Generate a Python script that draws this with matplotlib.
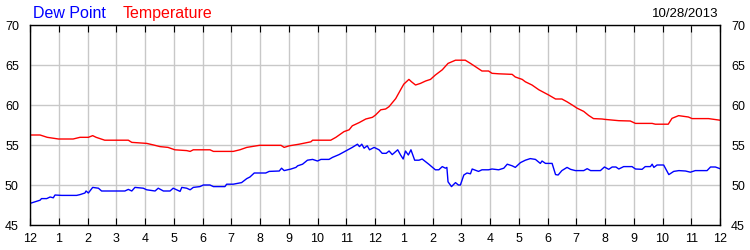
import matplotlib.pyplot as plt

plt.rcParams['font.family'] = ['Liberation Sans', 'DejaVu Sans']

# hours since midnight
temp_h = [0, 0.35, 0.6, 0.99, 1.5, 1.74, 2.03, 2.18, 2.3, 2.6, 3.42, 3.54, 4.06, 4.3, 4.52,
          4.8, 5.04, 5.45, 5.57, 5.68, 6.26, 6.38, 7.07, 7.3, 7.54, 7.98, 8.73, 8.84, 9.02,
          9.36, 9.77, 9.83, 10.46, 10.64, 10.92, 11.1, 11.21, 11.45, 11.68, 11.91, 12.02,
          12.2, 12.37, 12.49, 12.72, 12.89, 13.0, 13.18, 13.27, 13.41, 13.58, 13.76, 13.93,
          14.1, 14.34, 14.54, 14.8, 15.14, 15.32, 15.49, 15.72, 15.95, 16.07, 16.3, 16.77,
          16.88, 17.12, 17.23, 17.46, 17.7, 18.04, 18.28, 18.5, 18.68, 18.86, 19.03, 19.26,
          19.43, 19.6, 19.9, 20.0, 20.48, 20.88, 21.06, 21.64, 21.75, 22.2, 22.33, 22.56,
          22.9, 23.03, 23.6, 24.0]
temp_v = [56.25, 56.25, 55.96, 55.75, 55.75, 55.96, 55.96, 56.17, 55.96, 55.6, 55.6, 55.33,
          55.2, 55.0, 54.8, 54.7, 54.4, 54.3, 54.2, 54.4, 54.4, 54.2, 54.2, 54.4, 54.7, 54.96,
          54.96, 54.7, 54.9, 55.1, 55.4, 55.6, 55.6, 55.96, 56.67, 56.9, 57.4, 57.8, 58.25,
          58.46, 58.75, 59.4, 59.5, 59.8, 60.8, 61.9, 62.6, 63.2, 62.9, 62.5, 62.7, 63.0, 63.2,
          63.75, 64.4, 65.2, 65.6, 65.6, 65.2, 64.8, 64.25, 64.25, 63.96, 63.9, 63.83, 63.5,
          63.2, 62.9, 62.5, 61.9, 61.25, 60.75, 60.75, 60.4, 60.0, 59.6, 59.2, 58.7, 58.3,
          58.25, 58.2, 58.04, 58.0, 57.7, 57.7, 57.6, 57.6, 58.33, 58.67, 58.5, 58.3, 58.3,
          58.1]

dew_h = [0, 0.17, 0.35, 0.4, 0.58, 0.7, 0.81, 0.87, 1.1, 1.62, 1.74, 1.91, 1.95, 2.03, 2.18,
         2.38, 2.49, 3.3, 3.42, 3.54, 3.65, 3.94, 4.06, 4.35, 4.46, 4.64, 4.87, 4.98, 5.22,
         5.28, 5.45, 5.57, 5.68, 5.91, 6.03, 6.26, 6.38, 6.78, 6.84, 7.07, 7.36, 7.54, 7.65,
         7.8, 8.2, 8.32, 8.67, 8.75, 8.84, 9.08, 9.25, 9.31, 9.48, 9.65, 9.83, 10.0, 10.12,
         10.4, 10.52, 10.75, 10.98, 11.21, 11.39, 11.46, 11.54, 11.62, 11.73, 11.81, 11.97,
         12.14, 12.25, 12.39, 12.49, 12.6, 12.79, 12.89, 12.98, 13.06, 13.16, 13.25, 13.38,
         13.53, 13.64, 13.87, 14.1, 14.22, 14.34, 14.45, 14.5, 14.54, 14.66, 14.8, 14.9,
         14.97, 15.09, 15.2, 15.32, 15.38, 15.6, 15.72, 15.95, 16.07, 16.3, 16.48, 16.6,
         16.77, 16.88, 17.06, 17.23, 17.4, 17.58, 17.75, 17.81, 17.93, 18.16, 18.28, 18.37,
         18.5, 18.68, 18.8, 18.97, 19.1, 19.26, 19.38, 19.5, 19.67, 19.84, 19.98, 20.13,
         20.25, 20.38, 20.48, 20.65, 20.94, 21.06, 21.29, 21.4, 21.58, 21.64, 21.7, 21.81,
         22.04, 22.1, 22.22, 22.39, 22.57, 22.8, 22.97, 23.14, 23.55, 23.67, 23.84, 24.0]
dew_v = [47.7, 47.9, 48.1, 48.3, 48.3, 48.5, 48.4, 48.75, 48.7, 48.7, 48.8, 49.0, 49.25, 49.0,
         49.7, 49.6, 49.25, 49.25, 49.45, 49.25, 49.7, 49.6, 49.4, 49.25, 49.6, 49.25, 49.25,
         49.6, 49.2, 49.7, 49.6, 49.4, 49.7, 49.8, 50.0, 50.0, 49.8, 49.8, 50.1, 50.1, 50.3,
         50.8, 51.0, 51.5, 51.5, 51.7, 51.75, 52.1, 51.8, 52.0, 52.2, 52.4, 52.6, 53.1, 53.2,
         53.0, 53.2, 53.2, 53.45, 53.8, 54.25, 54.7, 55.1, 54.8, 55.1, 54.6, 54.9, 54.4, 54.7,
         54.4, 53.96, 53.96, 54.25, 53.8, 54.4, 53.75, 53.25, 54.25, 53.75, 54.4, 53.1, 53.1,
         53.25, 52.6, 51.9, 51.9, 52.3, 52.1, 52.2, 50.4, 49.8, 50.3, 50.0, 50.0, 51.25, 51.5,
         51.4, 52.0, 51.7, 51.9, 51.9, 52.0, 51.9, 52.1, 52.6, 52.4, 52.2, 52.8, 53.1, 53.3,
         53.2, 52.7, 53.0, 52.7, 52.7, 51.3, 51.25, 51.8, 52.2, 51.96, 51.8, 51.8, 51.8, 52.04,
         51.8, 51.8, 51.8, 52.25, 51.96, 52.25, 52.25, 52.0, 52.3, 52.3, 52.0, 51.96, 52.3,
         52.3, 52.6, 52.2, 52.5, 52.5, 52.1, 51.3, 51.7, 51.8, 51.75, 51.6, 51.8, 51.8, 52.25,
         52.25, 52.04]

x_ticks = list(range(25))
x_labels = [str(12 if h % 12 == 0 else h % 12) for h in x_ticks]
y_ticks = [45, 50, 55, 60, 65, 70]

fig = plt.figure(figsize=(7.5, 2.5), dpi=100)
ax = fig.add_axes([0.04, 0.1, 0.92, 0.8])

ax.plot(dew_h, dew_v, color='#0000ff', lw=1)
ax.plot(temp_h, temp_v, color='#ff0000', lw=1)

ax.set_xlim(0, 24)
ax.set_ylim(45, 70)
ax.set_xticks(x_ticks)
ax.set_xticklabels(x_labels)
ax.set_yticks(y_ticks)
ax.grid(True, color='#c8c8c8', lw=1)
ax.set_axisbelow(True)

ax.tick_params(axis='x', direction='in', length=5, top=True, bottom=True,
               labelsize=9, pad=6, color='black')
ax.tick_params(axis='y', length=0, left=True, right=True, labelleft=True,
               labelright=True, labelsize=9, pad=8)
for sp in ax.spines.values():
    sp.set_color('black')
    sp.set_linewidth(1)

fig.text(33 / 750, 1 - 18 / 250, 'Dew Point', color='#0000ff', fontsize=11.5)
fig.text(123 / 750, 1 - 18 / 250, 'Temperature', color='#ff0000', fontsize=11.5)
fig.text(718 / 750, 1 - 17 / 250, '10/28/2013', color='black', fontsize=9.5, ha='right')

fig.savefig('out.png', dpi=100)
